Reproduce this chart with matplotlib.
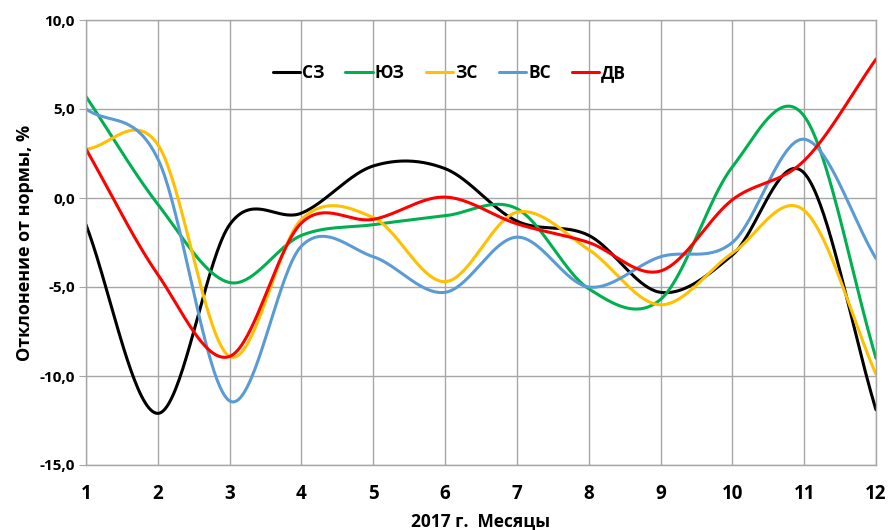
import numpy as np
import matplotlib
matplotlib.use("Agg")
import matplotlib.pyplot as plt
from matplotlib.ticker import FuncFormatter

plt.rcParams['font.family'] = ['Open Sans', 'DejaVu Sans']

months = [1, 2, 3, 4, 5, 6, 7, 8, 9, 10, 11, 12]

# отклонение от нормы, % (по округам)
sz = [-1.5, -12.1, -1.5, -0.85, 1.8, 1.65, -1.3, -2.1, -5.3, -3.2, 1.4, -11.9]
yuz = [5.7, -0.35, -4.75, -2.1, -1.5, -1.0, -0.6, -5.1, -5.7, 1.75, 4.6, -9.0]
zs = [2.75, 3.0, -8.9, -1.2, -1.1, -4.7, -0.8, -2.9, -6.0, -3.1, -0.7, -9.9]
vs = [5.0, 2.2, -11.4, -2.7, -3.3, -5.3, -2.2, -5.0, -3.3, -2.5, 3.3, -3.4]
dv = [2.75, -4.3, -8.9, -1.4, -1.2, 0.05, -1.45, -2.5, -4.1, -0.1, 2.1, 7.8]

names = ["СЗ", "ЮЗ", "ЗС", "ВС", "ДВ"]
colors = ["#000000", "#00B050", "#FFC000", "#5B9BD5", "#FF0000"]


def smooth(x, y, n=40):
    # сглаживание как в Excel (Catmull-Rom)
    x = np.asarray(x, float)
    y = np.asarray(y, float)
    px = np.concatenate([[2 * x[0] - x[1]], x, [2 * x[-1] - x[-2]]])
    py = np.concatenate([[2 * y[0] - y[1]], y, [2 * y[-1] - y[-2]]])
    xs, ys = [], []
    t = np.linspace(0, 1, n, endpoint=False)
    for i in range(1, len(px) - 2):
        for p, out in ((px, xs), (py, ys)):
            p0, p1, p2, p3 = p[i - 1], p[i], p[i + 1], p[i + 2]
            out.extend(0.5 * ((2 * p1) + (-p0 + p2) * t
                              + (2 * p0 - 5 * p1 + 4 * p2 - p3) * t ** 2
                              + (-p0 + 3 * p1 - 3 * p2 + p3) * t ** 3))
    xs.append(x[-1])
    ys.append(y[-1])
    return np.array(xs), np.array(ys)


fig = plt.figure(figsize=(8.9, 5.3), dpi=100)
ax = fig.add_axes([86 / 890, 1 - 465 / 530, 790 / 890, 445 / 530])

for series, name, c in zip([sz, yuz, zs, vs, dv], names, colors):
    sx, sy = smooth(months, series)
    ax.plot(sx, sy, color=c, lw=2.2, label=name, solid_capstyle='round')

ax.set_xlim(1, 12)
ax.set_ylim(-15, 10)
ax.set_xticks(months)
ax.set_yticks(np.arange(-15, 10.1, 5))
ax.yaxis.set_major_formatter(FuncFormatter(lambda v, p: f"{v:.1f}".replace(".", ",")))
ax.grid(True, color="#a6a6a6", lw=1)
ax.set_axisbelow(True)
for s in ax.spines.values():
    s.set_color("#a6a6a6")
    s.set_linewidth(1)
ax.tick_params(axis='y', length=5, color="#a6a6a6", labelsize=11, pad=3)
ax.tick_params(axis='x', length=0, labelsize=13.5, pad=14)
for lab in ax.get_xticklabels() + ax.get_yticklabels():
    lab.set_fontweight('bold')

ax.set_ylabel("Отклонение от нормы, %", fontsize=13, fontweight='bold', labelpad=4)
ax.set_xlabel("2017 г.  Месяцы", fontsize=12.5, fontweight='bold', labelpad=6)

leg = ax.legend(loc='center', ncol=5, frameon=False,
                fontsize=12.5, handlelength=1.6, handletextpad=0.1, columnspacing=1.2,
                bbox_to_anchor=(0.46, 1 - (73 - 20) / 445), bbox_transform=ax.transAxes)
for t in leg.get_texts():
    t.set_fontweight('bold')

fig.savefig("out.png", dpi=100)
